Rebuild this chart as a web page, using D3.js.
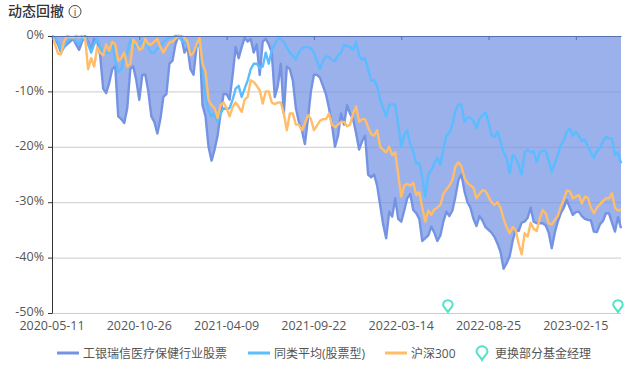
<!DOCTYPE html>
<html>
<head>
<meta charset="utf-8">
<script src="https://cdn.jsdelivr.net/npm/d3@7"></script>
<style>
  html, body { margin: 0; padding: 0; background: #fff; }
  svg text { font-family: "Open Sans", "Noto Sans CJK SC", sans-serif; }
</style>
</head>
<body>
<div id="chart"></div>
<script>
const xTickLabels = ["2020-05-11", "2020-10-26", "2021-04-09", "2021-09-22", "2022-03-14", "2022-08-25", "2023-02-15"];
const yTicks = [0, -10, -20, -30, -40, -50];
const samplesPerTick = 29; // one value every few trading days

const fundName = "工银瑞信医疗保健行业股票";
const peerName = "同类平均(股票型)";
const indexName = "沪深300";
const managerName = "更换部分基金经理";

const fundValues = [
  0, -0.5, -1.5, -3, -2, -1.5, -1, -0.5, -1.5, -2.5, -1, 0, -1, -2.5, -0.5, -1, -3.5, -9.5, -10.3, -8.5,
  -6, -5.5, -14.5, -15, -15.7, -13, -6, -5.5, -8, -11.5, -7, -7, -10, -14.5, -15.5, -17.6, -15, -11, -10.5, -5,
  -4.5, -1.5, 0, -0.3, -3, -2, -6, -7, -2, -1, -12.5, -14.5, -20, -22.5, -20.5, -18, -14, -10.5, -10.5, -11.5,
  -7, -2, -4, -2, -0.3, -1, -0.5, -3, -1.5, -7, -1, -0.5, -1.5, -3, -11, -9, -5, -14, -5.5, -6,
  -8, -13, -15.5, -17, -19.5, -15, -10, -7, -7, -7.5, -9, -10.5, -13, -16, -20, -18, -14, -16, -12.5, -14,
  -15, -17.5, -20.5, -19, -18, -25, -25.5, -25, -27, -30.5, -34, -36.5, -31.7, -32.6, -29.3, -33, -33.5, -31.5, -29.3, -28.5,
  -31.4, -32, -33, -37, -36.5, -36, -34.4, -35.5, -37, -36, -33.5, -31.7, -32.5, -31.5, -29, -26, -25, -28, -30, -31,
  -33, -34.3, -32.5, -33.3, -34.5, -35, -35.5, -36.3, -37.5, -39, -42, -41, -39.8, -37, -35, -35.2, -33.7, -33.5, -32.8, -31,
  -33.5, -33.8, -33.8, -33.8, -34.2, -35.5, -38.3, -35.5, -33.5, -32, -31, -29.6, -31, -32.3, -31.8, -31.7, -32.5, -33, -33.2, -33.3,
  -35.3, -35.4, -34, -33.4, -32, -32, -33.7, -35.3, -32.7, -34.7
];

const peerValues = [
  0, -0.5, -1, -2.5, -2, -1, -0.5, -0.3, -1, -1.5, -0.5, -0.2, -1.5, -3, -1.5, -0.5, -2, -3, -3, -3,
  -0.8, -4.5, -6.5, -6, -4, -3, -0.7, -1.5, -2, -1.5, -1, -1, -2.2, -3, -3, -2.2, -2, -1, -0.7, -0.2,
  -0.3, 0, 0, -0.8, -1.2, -1.5, -3, -2.8, -1.8, -1, -6, -11, -13.5, -14.5, -14, -15.5, -14, -13, -13.2, -13,
  -11.5, -9.5, -9, -11, -9.5, -8, -6, -5, -5, -5.8, -5.5, -3, -5, -2.5, -1.5, -0.5, -0.5, -1, -2, -3,
  -3.5, -4.2, -3, -2.2, -2, -2, -2.2, -3, -4.5, -6, -4.5, -3.7, -3.8, -4.3, -4.5, -3.5, -3, -1.6, -1.8, -2,
  -2.5, -1, -3.5, -4.3, -4, -6, -8, -8, -9, -11.5, -13, -14.5, -12.5, -12.3, -12.5, -16, -20, -17.8, -17, -19.5,
  -20.8, -23, -23, -25.5, -29, -25, -24.2, -23, -22, -23.3, -20.3, -18, -17.5, -16, -13.5, -12.3, -12.5, -15.5, -14.7, -14.8,
  -15.3, -16.7, -15, -14.3, -13.8, -15.5, -18, -18.2, -17.3, -19, -21, -22, -24.8, -21.5, -22, -23.3, -25, -21, -20.5, -21,
  -20.8, -22.8, -21, -20.7, -20.7, -22.5, -24.5, -23, -21.5, -19.7, -18.8, -17.3, -16.7, -18, -17.3, -18, -19, -18.7, -20, -21,
  -22, -20.8, -20.3, -19, -18.2, -18.5, -18.5, -21.5, -21, -23
];

const indexValues = [
  0, -1.5, -3.2, -3.3, -1, 0, -0.2, -0.3, 0, -0.2, 0, -0.4, -6, -4, -5.5, -2, -3, -3.5, -1.5, -2.7,
  -1, -1.5, -4.5, -4, -3, -5.5, -5, -0.7, -1.3, -2.5, -2.2, -0.5, -1.5, -1.5, -1, -0.5, -2, -3, -2, -1.2,
  -1, -0.5, 0, 0, -0.3, -1, -3.5, -3, -1.5, -0.3, -5, -6.5, -11.5, -12.5, -13, -14.8, -12.5, -12, -13, -14.5,
  -12.8, -12, -12.8, -13.7, -11.5, -11, -8, -8.3, -9, -9.8, -12.2, -10, -10, -12, -12.3, -12, -12, -14, -17, -14,
  -14, -16, -16, -17, -15.8, -14.3, -15, -17, -16.2, -15.3, -15, -15, -14, -16, -16.5, -16, -15.5, -15.5, -16.3, -16,
  -14, -12.7, -15.5, -15, -15, -16.5, -17.7, -18, -17, -20, -20.5, -21, -20, -21.5, -21, -25, -29, -27, -26.7, -27,
  -26.5, -28.7, -28.2, -31, -33.5, -31.5, -32.3, -31.3, -31, -30.5, -28.5, -27.7, -27, -26, -23.5, -22.8, -23.5, -25.6, -26.5, -27,
  -27.4, -29.3, -28.5, -27.8, -28, -29, -30, -30.5, -30, -31, -33, -34.5, -35.6, -34.5, -35, -37.5, -39.4, -35.6, -36.2, -33.7,
  -34.8, -35.2, -33, -31.4, -32, -33.8, -34, -33.2, -32.5, -30.8, -29.5, -27.9, -28, -29.3, -29, -28.7, -30.2, -29, -29.2, -31,
  -32, -31, -30.4, -29.8, -29.3, -29.3, -28.4, -31, -31.5, -31.3
];

// positions along the sample index where the manager changed
const managerChanges = [131.5, 188];

const width = 638;
const height = 382;
const margin = { top: 36, right: 17, bottom: 69, left: 52 };

const fundColor = "#7593e3";
const peerColor = "#5bbcff";
const indexColor = "#ffbd69";
const pinColor = "#4fe3c6";
const textColor = "#555";

const svg = d3.select("#chart").append("svg")
  .attr("width", width)
  .attr("height", height)
  .style("display", "block");

const x = d3.scaleLinear()
  .domain([0, fundValues.length - 1])
  .range([margin.left, width - margin.right]);

const y = d3.scaleLinear()
  .domain([0, -50])
  .range([margin.top, height - margin.bottom]);

// Grid
svg.append("g")
  .selectAll("line")
  .data(yTicks.filter(d => d !== 0))
  .join("line")
  .attr("x1", margin.left)
  .attr("x2", width - margin.right)
  .attr("y1", d => y(d) + 0.5)
  .attr("y2", d => y(d) + 0.5)
  .attr("stroke", "#cccccc");

// Area from zero down to the fund's line
const area = d3.area()
  .x((d, i) => x(i))
  .y0(y(0))
  .y1(d => y(d));

svg.append("path")
  .datum(fundValues)
  .attr("d", area)
  .attr("fill", fundColor)
  .attr("fill-opacity", 0.72);

const line = d3.line()
  .x((d, i) => x(i))
  .y(d => y(d));

[[fundValues, fundColor], [peerValues, peerColor], [indexValues, indexColor]].forEach(s => {
  svg.append("path")
    .datum(s[0])
    .attr("d", line)
    .attr("fill", "none")
    .attr("stroke", s[1])
    .attr("stroke-width", 2.4)
    .attr("stroke-linejoin", "round");
});

// Y axis
const gy = svg.append("g")
  .attr("transform", `translate(${margin.left},0)`)
  .call(d3.axisLeft(y).tickValues(yTicks).tickFormat(d => d + "%").tickSize(4).tickSizeOuter(0).tickPadding(4));
gy.select(".domain").attr("stroke", "#333");
gy.selectAll(".tick line").attr("stroke", "#333");
gy.selectAll("text").style("font-size", "12.5px").attr("fill", textColor).attr("dy", "0.22em");

// X axis sits on the zero line, its labels are down at the bottom
const tickIdx = xTickLabels.map((d, i) => i * samplesPerTick);
const gx = svg.append("g")
  .attr("transform", `translate(0,${y(0)})`)
  .call(d3.axisBottom(x).tickValues(tickIdx).tickFormat("").tickSize(4).tickSizeOuter(0));
gx.select(".domain").attr("stroke", "#5570b0");
gx.selectAll(".tick line").attr("stroke", "#5570b0");

svg.append("g")
  .selectAll("text")
  .data(xTickLabels)
  .join("text")
  .attr("x", (d, i) => x(tickIdx[i]))
  .attr("y", y(-50) + 17)
  .attr("text-anchor", "middle")
  .style("font-size", "12.5px")
  .attr("fill", textColor)
  .text(d => d);

function pin(g, size) {
  // teardrop outline, tip at the origin
  const r = size / 2;
  const h = size * 1.25;
  g.append("path")
    .attr("d", `M0,0 C${-r * 0.35},${-h * 0.25} ${-r},${-h * 0.45} ${-r},${-h + r} A${r},${r} 0 1 1 ${r},${-h + r} C${r},${-h * 0.45} ${r * 0.35},${-h * 0.25} 0,0 Z`)
    .attr("fill", "#fff")
    .attr("fill-opacity", 0)
    .attr("stroke", pinColor)
    .attr("stroke-width", 2);
}

svg.append("g")
  .selectAll("g")
  .data(managerChanges)
  .join("g")
  .attr("transform", d => `translate(${x(d)},${y(-50) - 1})`)
  .each(function() { pin(d3.select(this), 9.5); });

// Title
svg.append("text")
  .attr("x", 8)
  .attr("y", 16)
  .style("font-family", "'Noto Sans CJK SC'")
  .style("font-size", "14px")
  .style("font-weight", 500)
  .attr("fill", "#333")
  .text("动态回撤");

const info = svg.append("g").attr("transform", "translate(75,11.5)");
info.append("circle").attr("r", 6).attr("fill", "none").attr("stroke", "#444").attr("stroke-width", 1);
info.append("text")
  .attr("y", 4)
  .attr("text-anchor", "middle")
  .style("font-size", "10px")
  .attr("fill", "#444")
  .text("i");

// Legend
const legendY = 353;
const lineItems = [
  { name: fundName, color: fundColor, x0: 57 },
  { name: peerName, color: peerColor, x0: 248 },
  { name: indexName, color: indexColor, x0: 385 }
];
const legend = svg.append("g");
lineItems.forEach(d => {
  legend.append("line")
    .attr("x1", d.x0).attr("x2", d.x0 + 22)
    .attr("y1", legendY).attr("y2", legendY)
    .attr("stroke", d.color)
    .attr("stroke-width", 3);
  legend.append("text")
    .attr("x", d.x0 + 26)
    .attr("y", legendY + 4.5)
    .style("font-size", "12px")
    .attr("fill", textColor)
    .text(d.name);
});
const legendPin = legend.append("g").attr("transform", `translate(482,${legendY + 7})`);
pin(legendPin, 11);
legend.append("text")
  .attr("x", 495)
  .attr("y", legendY + 4.5)
  .style("font-size", "12px")
  .attr("fill", textColor)
  .text(managerName);
</script>
</body>
</html>
